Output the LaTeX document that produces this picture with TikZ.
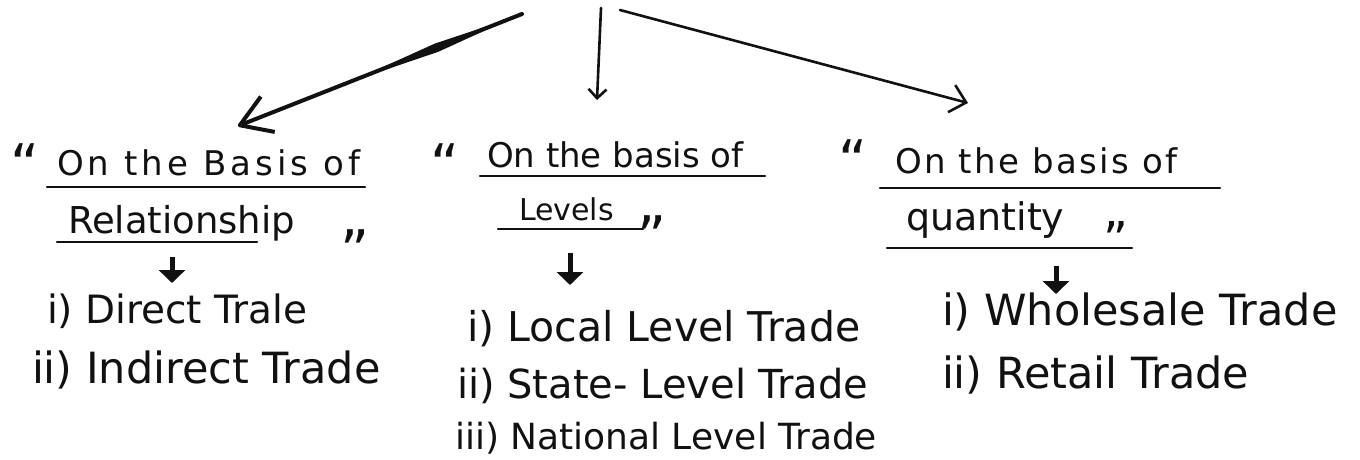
\documentclass[tikz,border=0pt]{standalone}
\usepackage{fontspec}
\newfontfamily\hand{DejaVu Sans}
\usetikzlibrary{arrows.meta}
\newcommand\fsz[1]{\fontsize{#1}{#1}\selectfont}
\definecolor{ink}{HTML}{111111}
\begin{document}
\begin{tikzpicture}[x=1pt,y=-1pt,
  txt/.style={anchor=base west, inner sep=0pt, outer sep=0pt, text=ink},
  qmark/.style={txt, font=\hand\fsz{56}},
  item/.style={txt, font=\hand\fsz{#1}},
  uline/.style={draw=ink, line width=2.4pt, line cap=round},
  bigarrow/.style={draw=ink, line width=2.6pt, line cap=round, line join=round},
  smallarrow/.style={draw=ink, line width=5pt, -{Triangle[length=13pt,width=26pt]}}
]
\useasboundingbox[fill=white] (0,0) rectangle (1360,460);

% ---------- top connectors ----------
\coordinate (r1) at (522,14);
\coordinate (t1) at (238,126);
\coordinate (r2) at (601,8);
\coordinate (t2) at (597,100);
\coordinate (r3) at (620,10);
\coordinate (t3) at (968,103);

\draw[bigarrow, line width=4pt, -{Straight Barb[length=30pt,width=38pt,line join=round]}] (r1) -- (t1);
\fill[ink] (513.5,17.4) -- (438.3,51.8) -- (351.6,81.2) -- (435.3,43.4) -- cycle;
\draw[bigarrow, -{Straight Barb[length=9pt,width=18pt]}] (r2) -- (t2);
\draw[bigarrow, -{Straight Barb[length=15pt,width=28pt]}] (r3) -- (t3);

% ---------- left column ----------
\node[qmark] (q1o) at (10,184) {“};
\node[txt, font={\hand\fsz{34}\addfontfeature{LetterSpace=12}}] (h1a) at (57,175) {On the Basis of};
\draw[uline] (47,187) -- (365,187);
\node[txt, font=\hand\fsz{37}] (h1b) at (68,233) {Relationship};
\draw[uline] (57,242) -- (257,242);
\node[qmark] (q1c) at (340,270) {”};
\coordinate (s1a) at (172,257);
\coordinate (s1b) at (172,283);
\draw[smallarrow] (s1a) -- (s1b);
\node[item=39] (l1a) at (47,323) {i) Direct Trale};
\node[item=43] (l1b) at (32,383) {ii) Indirect Trade};

% ---------- middle column ----------
\node[qmark] (q2o) at (430,184) {“};
\node[txt, font=\hand\fsz{34}] (h2a) at (487,167) {On the basis of};
\draw[uline] (480,176) -- (765,176);
\node[txt, font=\hand\fsz{30}] (h2b) at (519,220) {Levels};
\draw[uline] (498,229) -- (643,229);
\node[qmark] (q2c) at (637,256) {”};
\coordinate (s2a) at (570,253);
\coordinate (s2b) at (570,285);
\draw[smallarrow] (s2a) -- (s2b);
\node[item=41] (l2a) at (467,341) {i) Local Level Trade};
\node[item=40] (l2b) at (457,398) {ii) State- Level Trade};
\node[item=36] (l2c) at (455,449) {iii) National Level Trade};

% ---------- right column ----------
\node[qmark] (q3o) at (838,180) {“};
\node[txt, font={\hand\fsz{34}\addfontfeature{LetterSpace=7}}] (h3a) at (895,173) {On the basis of};
\draw[uline] (880,188) -- (1220,188);
\node[txt, font=\hand\fsz{38}] (h3b) at (906,230) {quantity};
\draw[uline] (887,248) -- (1132,248);
\node[qmark, font=\hand\fsz{48}] (q3c) at (1103,256) {”};
\coordinate (s3a) at (1056,266);
\coordinate (s3b) at (1056,294);
\draw[smallarrow] (s3a) -- (s3b);
\node[item=43] (l3a) at (942,325) {i) Wholesale Trade};
\node[item=43] (l3b) at (942,388) {ii) Retail Trade};
\end{tikzpicture}
\end{document}
